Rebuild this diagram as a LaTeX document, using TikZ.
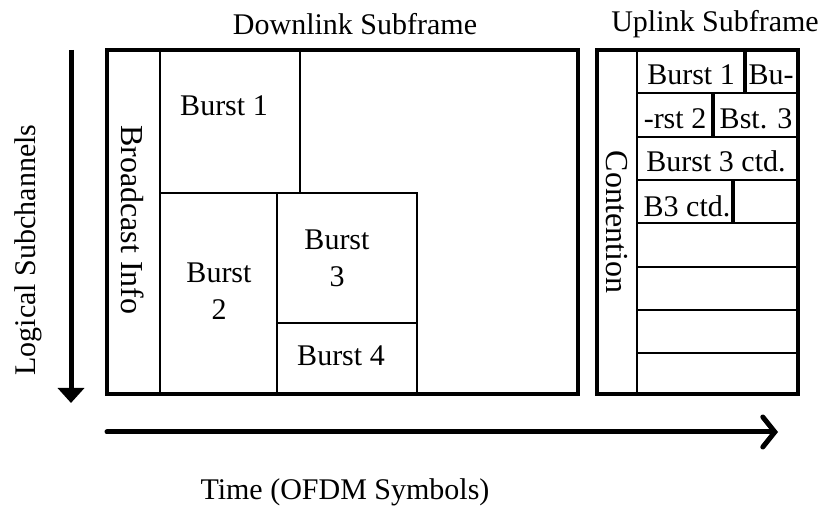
\documentclass[tikz,border=0pt]{standalone}
\usepackage{fontspec}
\setmainfont{Liberation Serif}
\usetikzlibrary{arrows.meta,fit}
\begin{document}
\begin{tikzpicture}[x=1pt,y=-1pt,
  outer/.style={draw, line width=3.5pt, inner sep=0pt},
  cell/.style={draw, line width=1.8pt, inner sep=0pt},
  sep/.style={line width=4.5pt},
  lbl/.style={font=\fontsize{30}{37}\selectfont, align=center, inner sep=0pt},
  rlbl/.style={font=\fontsize{32}{37}\selectfont, inner sep=0pt},
  title/.style={font=\fontsize{30}{36}\selectfont, inner sep=0pt}]
\useasboundingbox (0,0) rectangle (820,510);
% Downlink
\node[cell, fit={(160,50) (300,193)}] (b1) {};
\node[cell, fit={(160,193) (277,394)}] (b2) {};
\node[cell, fit={(277,193) (417,323)}] (b3) {};
\node[cell, fit={(277,323) (417,394)}] (b4) {};
\node[cell, fit={(107,50) (160,394)}] (bc) {};
\node[outer, fit={(107,50) (578,394)}] (dl) {};
\node[lbl] (tb1) at (224,106) {Burst 1};
\node[lbl] (tb2) at (219,291) {Burst\\2};
\node[lbl] (tb3) at (337,258) {Burst\\3};
\node[lbl] (tb4) at (341,356) {Burst 4};
\node[rlbl, rotate=-90] (tbc) at (133,220) {Broadcast Info};
% Uplink
\foreach \i/\y in {1/93,2/137,3/180,4/223,5/267,6/310,7/353}{
  \coordinate (l\i) at (637,\y);
  \coordinate (r\i) at (798,\y);
  \draw[line width=1.8pt] (l\i) -- (r\i);
}
\node[cell, fit={(597,50) (637,394)}] (ct) {};
\node[outer, fit={(597,50) (798,394)}] (ul) {};
\coordinate (s1a) at (745,50); \coordinate (s1b) at (745,93);
\coordinate (s2a) at (713,93); \coordinate (s2b) at (713,137);
\coordinate (s3a) at (733,180); \coordinate (s3b) at (733,223);
\draw[sep] (s1a) -- (s1b);
\draw[sep] (s2a) -- (s2b);
\draw[sep] (s3a) -- (s3b);
\node[lbl] (u1) at (691,75) {Burst 1};
\node[lbl] (u2) at (771,75) {Bu-};
\node[lbl] (u3) at (675,119) {-rst 2};
\node[lbl] (u4) at (756,119) {Bst. 3};
\node[lbl] (u5) at (716,161) {Burst 3 ctd.};
\node[lbl] (u6) at (687,206) {B3 ctd.};
\node[rlbl, rotate=-90] (tct) at (617,222) {Contention};
% titles
\node[title] (tdl) at (355,24) {Downlink Subframe};
\node[title] (tul) at (715,24) {Uplink Subframe};
\node[title] (ttime) at (345,492) {Time (OFDM Symbols)};
\node[title, rotate=90] (tls) at (28,250) {Logical Subchannels};
% arrows
\coordinate (da) at (71,50); \coordinate (db) at (71,403);
\draw[line width=5pt, -{Triangle[length=15pt,width=26pt]}] (da) -- (db);
\coordinate (ra) at (107,432); \coordinate (rb) at (778,432);
\draw[line width=5pt, line cap=round, -{Straight Barb[length=12pt,width=30pt,line cap=round]}] (ra) -- (rb);
\end{tikzpicture}
\end{document}
